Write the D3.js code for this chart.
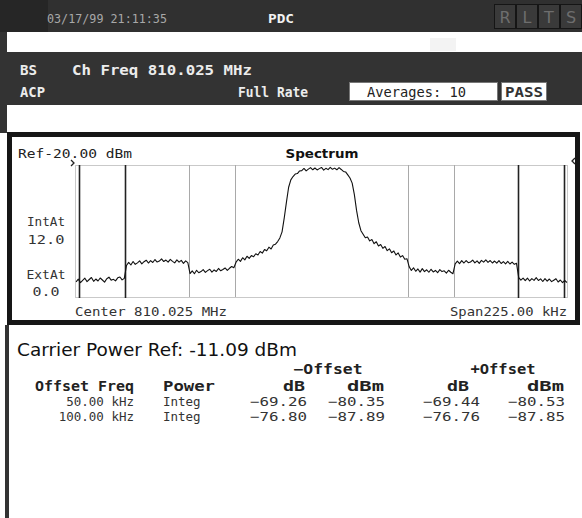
<!DOCTYPE html>
<html>
<head>
<meta charset="utf-8">
<script src="https://cdn.jsdelivr.net/npm/d3@7"></script>
<style>
  body { margin: 0; background: #fff; }
  svg { display: block; }
  text { font-family: "DejaVu Sans Mono", monospace; }
</style>
</head>
<body>
<svg width="582" height="518"></svg>
<script>
// ---- data ----
let spanKHz = [-112.5, 112.5];          // 225 kHz span around 810.025 MHz
let levelRange = [-100, -20];           // dBm, ref level -20 at top
let gridOffsets = [-60.5, -39.5, 39.5, 60.5];      // grey lines (50 kHz channel edges)
let markerOffsets = [-110.5, -89.5, 89.5, 110.5];  // black lines (100 kHz channel edges)

// trace: one reading per kHz from -112 to +112
let traceStart = -112;
let traceLevels = [
  // -112 .. -90
  -90.8,-89.2,-91.3,-89.9,-88.6,-90.7,-89.4,-88.2,-90.5,-89.1,-90.3,-88.5,
  -89.7,-91.0,-88.9,-88.0,-89.8,-89.3,-90.2,-88.4,-87.9,-89.6,-88.7,
  // -89 .. -61
  -80.9,-79.0,-80.6,-78.5,-80.2,-79.3,-78.1,-79.9,-78.6,-77.7,-79.4,-78.0,
  -79.1,-77.3,-78.8,-78.2,-76.9,-78.5,-77.6,-78.9,-77.2,-78.4,-79.3,-77.5,
  -78.9,-77.8,-79.6,-78.1,-79.2,
  // -60 .. -40
  -85.8,-84.2,-85.9,-83.8,-85.3,-84.6,-83.4,-85.1,-84.0,-83.2,-84.9,-83.6,
  -84.5,-82.7,-84.1,-83.3,-82.4,-83.9,-82.6,-81.5,-82.3,
  // -39 .. -19
  -78.9,-77.1,-78.4,-76.2,-77.5,-75.3,-76.6,-74.9,-75.6,-73.8,-74.5,-72.4,
  -73.4,-71.2,-72.0,-69.8,-70.9,-68.5,-68.0,-66.4,-64.2,
  // -18 .. -14
  -60.5,-52.0,-42.5,-33.5,-29.0,
  // -13 .. 12
  -27.0,-25.5,-25.2,-23.6,-23.4,-22.1,-23.6,-22.5,-21.6,-22.9,-21.8,-23.0,
  -22.2,-21.5,-23.1,-22.0,-22.8,-21.4,-22.6,-21.9,-22.9,-21.6,-22.7,-23.9,
  -24.2,-26.0,
  // 13 .. 18
  -27.9,-31.0,-38.0,-47.5,-55.0,-59.8,
  // 19 .. 39
  -62.0,-64.1,-63.6,-66.0,-65.2,-67.7,-66.5,-69.1,-68.2,-70.5,-69.4,-71.9,
  -70.8,-73.2,-72.1,-74.5,-73.3,-75.8,-74.9,-77.1,-76.8,
  // 40 .. 60
  -81.6,-83.9,-82.3,-84.4,-83.0,-84.9,-82.8,-84.6,-83.5,-85.0,-83.2,-84.8,
  -83.9,-85.3,-83.4,-84.6,-84.1,-85.5,-83.8,-85.0,-85.9,
  // 61 .. 89
  -79.9,-78.3,-79.8,-78.0,-79.4,-77.9,-79.2,-78.8,-77.6,-79.3,-78.1,-79.6,
  -77.8,-78.9,-77.5,-79.0,-77.9,-79.4,-78.2,-79.5,-78.0,-79.7,-78.6,-79.9,
  -78.4,-80.0,-78.9,-80.2,-79.6,
  // 90 .. 112
  -88.2,-89.8,-88.5,-90.1,-88.6,-90.3,-88.9,-89.9,-88.3,-90.0,-89.0,-90.6,
  -88.9,-90.4,-89.1,-90.7,-89.8,-88.9,-90.9,-89.7,-91.3,-90.0,-91.2
];

let offsetFreqs = ["50.00 kHz", "100.00 kHz"];
let powerTypes  = ["Integ", "Integ"];
let negDb  = ["\u221269.26", "\u221276.80"];
let negDbm = ["\u221280.35", "\u221287.89"];
let posDb  = ["\u221269.44", "\u221276.76"];
let posDbm = ["\u221280.53", "\u221287.85"];
let carrierRef = "-11.09 dBm";

// ---- drawing ----
let svg = d3.select("svg");
let dark = "#333333";

function label(g, str, o) {
    let t = g.append("text")
        .attr("x", o.x).attr("y", o.y)
        .attr("font-size", o.size || 13)
        .attr("font-weight", o.bold ? "bold" : "normal")
        .attr("fill", o.fill || "#222")
        .attr("text-anchor", o.anchor || "start")
        .text(str);
    if (o.len) t.attr("textLength", o.len).attr("lengthAdjust", "spacingAndGlyphs");
    if (o.family) t.style("font-family", o.family);
    return t;
}

// title bar
svg.append("rect").attr("x", 0).attr("y", 0).attr("width", 582).attr("height", 32).attr("fill", "#303030");
svg.append("rect").attr("x", 0).attr("y", 0).attr("width", 48).attr("height", 32).attr("fill", "#262626");
label(svg, "03/17/99 21:11:35", {x: 47, y: 23, size: 12, fill: "#a8a8a8", len: 120});
label(svg, "PDC", {x: 268, y: 23, size: 13, bold: true, fill: "#f2f2f2", len: 26});

let flags = ["R", "L", "T", "S"];
let flagX = d3.scaleBand().domain(flags).range([494, 582]);
svg.selectAll("rect.flag").data(flags).enter().append("rect")
    .attr("class", "flag")
    .attr("x", d => flagX(d) + 0.5).attr("y", 4.5)
    .attr("width", flagX.bandwidth() - 1).attr("height", 24)
    .attr("fill", "#3a3a3a").attr("stroke", "#151515");
svg.selectAll("text.flag").data(flags).enter().append("text")
    .attr("class", "flag")
    .attr("x", d => flagX(d) + flagX.bandwidth() / 2).attr("y", 23)
    .attr("text-anchor", "middle").attr("font-size", 16)
    .style("font-family", "DejaVu Sans")
    .attr("fill", "#6e6e6e").text(d => d);

// white strip + left edge
svg.append("rect").attr("x", 0).attr("y", 32).attr("width", 7).attr("height", 20).attr("fill", dark);
svg.append("rect").attr("x", 430).attr("y", 38).attr("width", 26).attr("height", 13).attr("fill", "#f3f3f3");

// measurement header band
svg.append("rect").attr("x", 0).attr("y", 52).attr("width", 582).attr("height", 53).attr("fill", dark);
label(svg, "BS", {x: 20, y: 75, size: 14, bold: true, fill: "#ececec", len: 17});
label(svg, "Ch Freq 810.025 MHz", {x: 72, y: 75, size: 14, bold: true, fill: "#ececec", len: 180});
label(svg, "ACP", {x: 20, y: 97, size: 14, bold: true, fill: "#ececec", len: 25});
label(svg, "Full Rate", {x: 238, y: 97, size: 14, bold: true, fill: "#ececec", len: 70});
svg.append("rect").attr("x", 349.5).attr("y", 82.5).attr("width", 148).attr("height", 18)
    .attr("fill", "#fff").attr("stroke", "#777");
label(svg, "Averages: 10", {x: 367, y: 97, size: 14, fill: "#222", len: 99});
svg.append("rect").attr("x", 501.5).attr("y", 82.5).attr("width", 45).attr("height", 18)
    .attr("fill", "#fff").attr("stroke", "#777");
label(svg, "PASS", {x: 524, y: 97, size: 14, bold: true, fill: "#333", anchor: "middle", len: 38});

svg.append("rect").attr("x", 0).attr("y", 105).attr("width", 7).attr("height", 28).attr("fill", dark);

// ---- spectrum panel ----
svg.append("rect").attr("x", 9.5).attr("y", 134.5).attr("width", 568).attr("height", 188)
    .attr("fill", "#fff").attr("stroke", "#161616").attr("stroke-width", 5);

label(svg, "Ref-20.00 dBm", {x: 18, y: 158, size: 13, fill: "#222", len: 114});
label(svg, "Spectrum", {x: 322, y: 158, size: 13, bold: true, fill: "#111", anchor: "middle", len: 73, family: "DejaVu Sans"});

let plot = {left: 75, right: 568, top: 165, bottom: 297};
let x = d3.scaleLinear().domain(spanKHz).range([plot.left, plot.right]);
let y = d3.scaleLinear().domain(levelRange).range([plot.bottom, plot.top]);

let plotG = svg.append("g");
plotG.append("rect")
    .attr("x", plot.left + 0.5).attr("y", plot.top + 0.5)
    .attr("width", plot.right - plot.left - 1).attr("height", plot.bottom - plot.top)
    .attr("fill", "none").attr("stroke", "#c9c9c9");

plotG.selectAll("line.grid").data(gridOffsets).enter().append("line")
    .attr("class", "grid")
    .attr("x1", d => Math.round(x(d)) + 0.5).attr("x2", d => Math.round(x(d)) + 0.5)
    .attr("y1", plot.top).attr("y2", plot.bottom)
    .attr("stroke", "#a9a9a9");

plotG.selectAll("line.marker").data(markerOffsets).enter().append("line")
    .attr("class", "marker")
    .attr("x1", d => Math.round(x(d)) + 0.5).attr("x2", d => Math.round(x(d)) + 0.5)
    .attr("y1", plot.top).attr("y2", plot.bottom + 1)
    .attr("stroke", "#222").attr("stroke-width", 1.6);

let trace = traceLevels.map((v, i) => ({f: traceStart + i, v: v}));
let line = d3.line().x(d => x(d.f)).y(d => y(d.v));
plotG.append("path")
    .datum(trace)
    .attr("d", line)
    .attr("fill", "none")
    .attr("stroke", "#111")
    .attr("stroke-width", 1.1)
    .attr("stroke-linejoin", "round");

// ref arrows at the top edge
plotG.append("path")
    .attr("d", `M${plot.left - 4},${plot.top - 5} L${plot.left - 1},${plot.top - 2} L${plot.left - 4},${plot.top + 1}`)
    .attr("fill", "none").attr("stroke", "#222").attr("stroke-width", 1.3);
plotG.append("path")
    .attr("d", `M${plot.right + 7},${plot.top - 7} L${plot.right + 4},${plot.top - 4} L${plot.right + 7},${plot.top - 1}`)
    .attr("fill", "none").attr("stroke", "#222").attr("stroke-width", 1.3);

label(svg, "IntAt", {x: 46, y: 226, size: 13, fill: "#333", anchor: "middle", len: 38});
label(svg, "12.0", {x: 46, y: 244, size: 13, fill: "#333", anchor: "middle", len: 37});
label(svg, "ExtAt", {x: 46, y: 279, size: 13, fill: "#333", anchor: "middle", len: 39});
label(svg, "0.0", {x: 46, y: 296, size: 13, fill: "#333", anchor: "middle", len: 27});
label(svg, "Center 810.025 MHz", {x: 75, y: 316, size: 13, fill: "#333", len: 152});
label(svg, "Span225.00 kHz", {x: 567, y: 316, size: 13, fill: "#333", anchor: "end", len: 117});

// ---- ACP results ----
svg.append("rect").attr("x", 5).attr("y", 325).attr("width", 4).attr("height", 193).attr("fill", dark);

label(svg, "Carrier Power Ref: " + carrierRef, {x: 17, y: 356, size: 17, fill: "#111", len: 280, family: "DejaVu Sans"});

label(svg, "\u2212Offset", {x: 328, y: 374, size: 14, bold: true, fill: "#222", anchor: "middle", len: 69});
label(svg, "+Offset", {x: 503, y: 374, size: 14, bold: true, fill: "#222", anchor: "middle", len: 65});

let headY = 391;
label(svg, "Offset Freq", {x: 35, y: headY, size: 14, bold: true, fill: "#222", len: 99});
label(svg, "Power", {x: 163, y: headY, size: 14, bold: true, fill: "#222", len: 52});
label(svg, "dB", {x: 305, y: headY, size: 14, bold: true, fill: "#222", anchor: "end", len: 22});
label(svg, "dBm", {x: 384, y: headY, size: 14, bold: true, fill: "#222", anchor: "end", len: 37});
label(svg, "dB", {x: 469, y: headY, size: 14, bold: true, fill: "#222", anchor: "end", len: 22});
label(svg, "dBm", {x: 564, y: headY, size: 14, bold: true, fill: "#222", anchor: "end", len: 37});

let rowY = d3.scalePoint().domain(offsetFreqs).range([406, 421]);
let cols = [
    {vals: offsetFreqs, x: 134, anchor: "end"},
    {vals: powerTypes, x: 163, anchor: "start"},
    {vals: negDb, x: 307, anchor: "end", len: 57},
    {vals: negDbm, x: 385, anchor: "end", len: 57},
    {vals: posDb, x: 480, anchor: "end", len: 57},
    {vals: posDbm, x: 565, anchor: "end", len: 57}
];
cols.forEach(c => {
    let t = svg.selectAll(null).data(c.vals).enter().append("text")
        .attr("x", c.x)
        .attr("y", (d, i) => rowY(offsetFreqs[i]))
        .attr("text-anchor", c.anchor)
        .attr("font-size", 12.5)
        .attr("fill", "#333")
        .text(d => d);
    if (c.len) t.attr("textLength", c.len).attr("lengthAdjust", "spacingAndGlyphs");
});
</script>
</body>
</html>
